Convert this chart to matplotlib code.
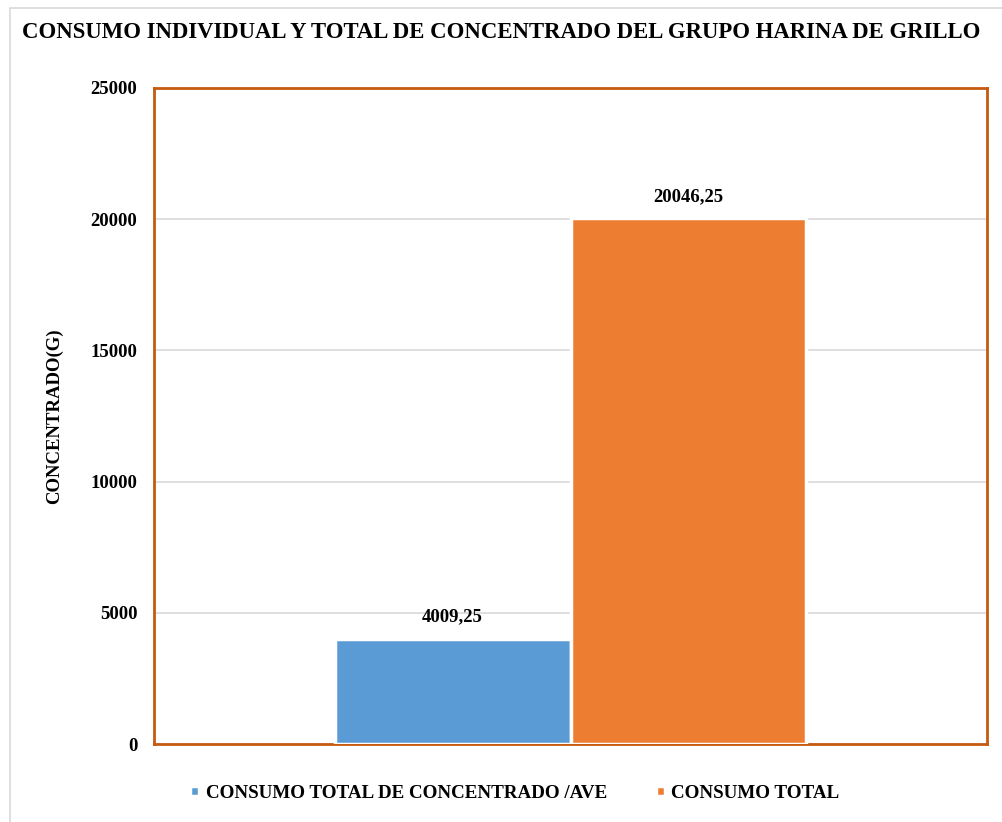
import matplotlib.pyplot as plt
from matplotlib.patches import Rectangle

# =========================
# DATA
# =========================
series_names = ["CONSUMO TOTAL DE CONCENTRADO /AVE", "CONSUMO TOTAL"]
series_values = [4009.25, 20046.25]
series_labels = ["4009,25", "20046,25"]
series_colors = ["#5B9BD5", "#ED7D31"]
y_ticks = [0, 5000, 10000, 15000, 20000, 25000]

plt.rcParams["font.family"] = ["Liberation Serif", "DejaVu Serif"]
plt.rcParams["font.weight"] = "bold"

fig = plt.figure(figsize=(10.02, 8.22), dpi=100, facecolor="white")
ax = fig.add_axes([154 / 1002, 1 - 744 / 822, (987 - 154) / 1002, (744 - 88) / 822])

# outer chart border
fig.patches.append(Rectangle((10 / 1002, -0.1), 1.2, 1 - 8 / 822 + 0.1,
                             transform=fig.transFigure, fill=False,
                             edgecolor="#D9D9D9", linewidth=1.2))

# bars
width = 0.283
offsets = [-width / 2, width / 2]
for off, v, lab, c, name in zip(offsets, series_values, series_labels, series_colors, series_names):
    ax.bar(off, v, width=width, color=c, edgecolor="white", linewidth=2.5,
           label=name, zorder=3)
    ax.text(off, v + 500, lab, ha="center", va="bottom", fontsize=13.5,
            fontweight="bold", color="black", zorder=4)

ax.set_xlim(-0.5, 0.5)
ax.set_ylim(0, 25000)
ax.set_yticks(y_ticks)
ax.set_yticklabels([str(t) for t in y_ticks], fontsize=13.5, fontweight="bold")
ax.set_xticks([])
ax.tick_params(axis="y", length=0, pad=12)

ax.grid(axis="y", color="#D9D9D9", linewidth=1.2, zorder=0)
for spine in ax.spines.values():
    spine.set_edgecolor("#C55A11")
    spine.set_linewidth(2)
    spine.set_zorder(2)

ax.set_ylabel("CONCENTRADO(G)", fontsize=13.5, fontweight="bold", labelpad=20)

fig.text(22 / 1002, 1 - 32 / 822,
         "CONSUMO INDIVIDUAL Y TOTAL DE CONCENTRADO DEL GRUPO HARINA DE GRILLO",
         fontsize=16.4, fontweight="bold", ha="left", va="center")

leg = fig.legend(*ax.get_legend_handles_labels(), loc="center",
                 bbox_to_anchor=(515 / 1002, 1 - 793 / 822), ncol=2, frameon=False,
                 handlelength=0.45, handleheight=0.45, handletextpad=0.35,
                 columnspacing=2.6, prop={"size": 13.7, "weight": "bold"})

plt.savefig("out.png", dpi=100, facecolor="white")
plt.close()
